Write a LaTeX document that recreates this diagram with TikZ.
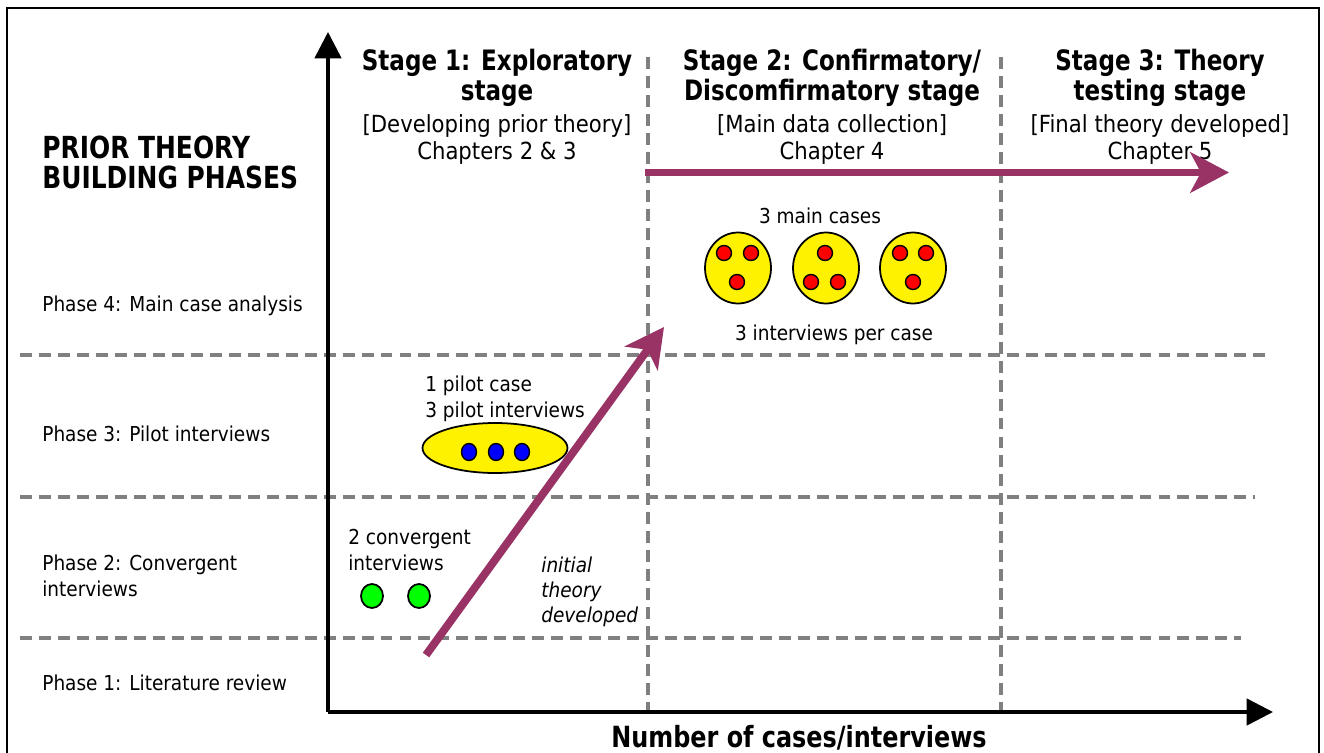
\documentclass[tikz,border=0pt]{standalone}
\usepackage{fontspec}
\setmainfont{DejaVu Sans}[FakeStretch=0.9,BoldFeatures={FakeStretch=0.82}]
\usetikzlibrary{arrows.meta,shapes.geometric}

\definecolor{plum}{RGB}{153,51,102}
\definecolor{gridgray}{RGB}{128,128,128}

\tikzset{
  gridline/.style={gridgray,line width=1.9pt,dash pattern=on 6.8pt off 4pt},
  axis/.style={black,line width=2pt,-{Triangle[length=15pt,width=15pt]}},
  growth/.style={plum,line width=4.5pt,-{Stealth[length=22pt,width=23pt,inset=6pt]}},
  label/.style={anchor=base west,inner sep=0pt,align=left,font=\fontsize{11.7}{14.5}\selectfont},
  headline/.style={anchor=base,inner sep=0pt,align=center,font=\bfseries\fontsize{16}{17.5}\selectfont},
  subline/.style={anchor=base,inner sep=0pt,align=center,font=\fontsize{13.4}{15.6}\selectfont},
  case/.style={ellipse,draw=black,line width=1pt,fill=yellow,inner sep=0pt,minimum width=1.32cm,minimum height=1.42cm},
  reddot/.style={ellipse,draw=black,line width=0.8pt,fill=red,inner sep=0pt,minimum width=0.3cm,minimum height=0.3cm},
  bluedot/.style={ellipse,draw=black,line width=0.8pt,fill=blue,inner sep=0pt,minimum width=0.3cm,minimum height=0.34cm},
  greendot/.style={ellipse,draw=black,line width=1pt,fill=green,inner sep=0pt,minimum width=0.44cm,minimum height=0.48cm}
}

\begin{document}
\begin{tikzpicture}[x=0.02cm,y=-0.02cm]
\useasboundingbox (0,0) rectangle (1324,753);

% outer frame (bottom edge is cut off)
\draw[black,line width=1.2pt] (7,8) rectangle (1319,780);

% dashed grid between phases and stages
\foreach \y/\xe in {355/1265,497/1255,638/1241}
    \draw[gridline] (20,\y) -- (\xe,\y);
\foreach \x in {648,1001}
    \draw[gridline] (\x,57) -- (\x,712);

% axes
\coordinate (origin) at (328,712);
\coordinate (ytip) at (328,32);
\coordinate (xtip) at (1273,712);
\draw[axis] (origin) -- (ytip);
\draw[axis] (origin) -- (xtip);
\node[anchor=base,inner sep=0pt,font=\bfseries\fontsize{16.6}{18}\selectfont] (xlabel) at (799,747) {Number of cases/interviews};

% phases on the left (base = last line)
\node[label,font=\bfseries\fontsize{17.3}{17.6}\selectfont] (phases) at (42,189) {PRIOR THEORY\\BUILDING PHASES};
\node[label] (phase4) at (42,311) {Phase 4: Main case analysis};
\node[label] (phase3) at (42,441) {Phase 3: Pilot interviews};
\node[label] (phase2) at (42,596) {Phase 2: Convergent\\interviews};
\node[label] (phase1) at (42,690) {Phase 1: Literature review};

% stages on top
\node[headline] (stage1) at (497,101) {Stage 1: Exploratory\\stage};
\node[subline] (sub1) at (497,160) {[Developing prior theory]\\Chapters 2 \& 3};
\node[headline] (stage2) at (832,101) {Stage 2: Confirmatory/\\Discomfirmatory stage};
\node[subline] (sub2) at (832,160) {[Main data collection]\\Chapter 4};
\node[headline] (stage3) at (1160,101) {Stage 3: Theory\\testing stage};
\node[subline] (sub3) at (1160,160) {[Final theory developed]\\Chapter 5};

% phase 2: convergent interviews
\node[label] (conv) at (348,570) {2 convergent\\interviews};
\node[greendot] (conv1) at (372,596) {};
\node[greendot] (conv2) at (419,596) {};

% phase 3: pilot case
\node[label] (pilot) at (425,417) {1 pilot case\\3 pilot interviews};
\node[case,minimum width=2.9cm,minimum height=1cm] (pilotcase) at (495,448) {};
\foreach \x/\n in {469/1,496/2,522/3}
    \node[bluedot] (pilot\n) at (\x,452) {};

% phase 4: main cases
\node[anchor=base,inner sep=0pt,font=\fontsize{11.7}{14.5}\selectfont] (maintext) at (820,223) {3 main cases};
\node[case] (case1) at (738,268) {};
\node[case] (case2) at (826,268) {};
\node[case] (case3) at (913,268) {};
\foreach \x/\y [count=\i] in {724/253,751/253,737/282,825/253,811/282,838/282,900/253,926/253,913/282}
    \node[reddot] (int\i) at (\x,\y) {};
\node[anchor=base,inner sep=0pt,font=\fontsize{11.7}{14.5}\selectfont] (pertext) at (834,340) {3 interviews per case};

% theory growth arrows
\node[label,font=\itshape\fontsize{11.7}{14.2}\selectfont] (initial) at (541,622) {initial\\theory\\developed};
\coordinate (start) at (426,655);
\coordinate (bend) at (664,327);
\coordinate (mainstart) at (645,172.5);
\coordinate (mainend) at (1229,172.5);
\draw[growth] (start) -- (bend);
\draw[growth] (mainstart) -- (mainend);
\end{tikzpicture}
\end{document}
